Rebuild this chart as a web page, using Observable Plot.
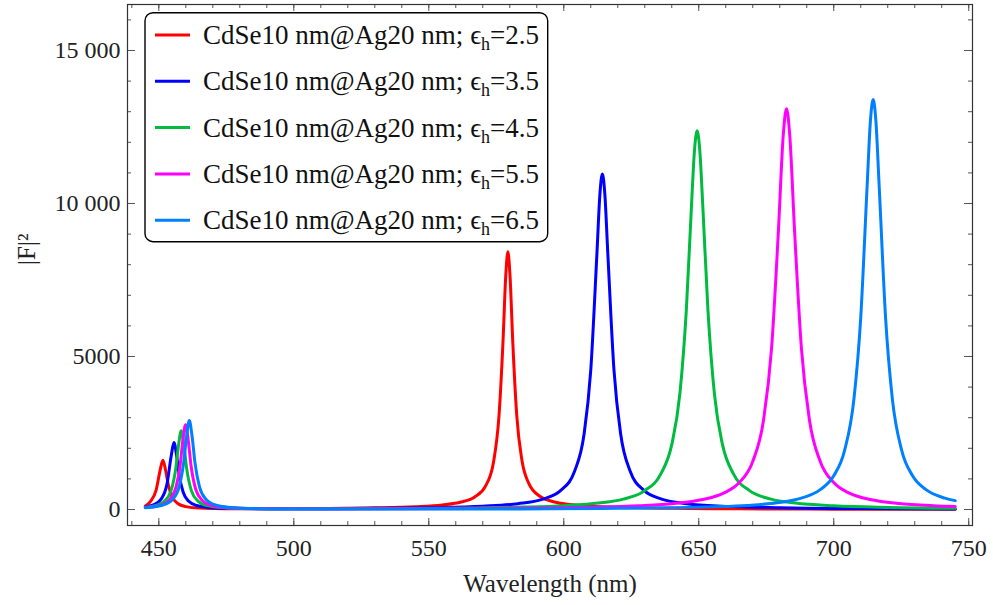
<!DOCTYPE html>
<html><head><meta charset="utf-8">
<script src="https://cdn.jsdelivr.net/npm/d3@7"></script>
<script src="https://cdn.jsdelivr.net/npm/@observablehq/plot@0.6"></script>
<style>body{margin:0;background:#fff}</style>
</head><body><div id="chart"></div>
<script>
// Host permittivities (legend) and colours
const epsH = ["2.5", "3.5", "4.5", "5.5", "6.5"];
const colors = ["#ff0000", "#0000ff", "#00bb40", "#ff00ff", "#0080ff"];

// Series: wavelength (nm) and |F|^2 values
const wlRed = [445,447,449,450.5,451.5,452.5,453.5,455,457,460,465,475,490,510,530,545,555,562,567,571,574,576,577.5,578.5,579.3,580.1,581.1,582.6,584.5,587,591,597,605,620,640,665,700,745];
const valRed = [115,273,633,1289,1610,1289,809,404,197,94,46,27,24,33,54,93,151,244,407,762,1563,3055,5503,7619,8420,7619,5503,3055,1611,860,440,236,140,73,39,21,11,6];

const wlBlue = [445,448,451,453,454.6,455.6,456.6,457.6,459,461,464,468,475,490,510,530,550,570,583,592,599,604,607.5,610,612.3,613.4,614.3,615.2,616.3,618.6,621.1,624.6,629.6,636.6,645.6,660,680,710,745];
const valBlue = [85,151,357,821,1755,2191,1755,1101,572,275,130,68,38,25,28,39,60,108,189,331,631,1249,2450,4555,8395,10324,10965,10324,8395,4555,2450,1249,631,331,189,102,56,29,17];

const wlGreen = [445,449,452,454.5,456.3,457.3,458.3,459.3,460.3,462.1,464.6,467.6,472,480,495,515,540,565,585,600,613,622,630,636,640,643,645.4,647.3,648.4,649.4,650.4,651.5,653.4,655.8,658.8,662.8,668.8,676.8,685.8,700,720,745];
const valGreen = [71,134,266,609,1352,2097,2570,2097,1352,609,266,135,71,37,24,25,33,50,80,126,211,340,616,1170,2119,3777,6525,9915,11715,12375,11715,9915,6525,3777,2119,1170,616,340,211,121,68,40];

const wlMagenta = [445,449,452,454.5,456.5,457.9,458.9,459.9,460.9,461.9,463.7,466.2,469.2,473.6,482,497,517,540,565,590,610,628,641,651,659,665,670,674,677,679.5,681.3,682.5,683.7,685.5,688,691,695,700,706,714,724,737,745];
const valMagenta = [62,107,190,372,771,1456,2259,2769,2259,1456,655,285,143,74,36,22,20,24,31,49,76,125,199,318,526,879,1569,2927,5299,9094,12235,13100,12235,9094,5299,2927,1569,879,526,318,199,125,98];

const wlAzure = [445,449,452,455,457.5,459.2,460.3,461.3,462.3,463.4,465.1,467.6,470.6,473.6,479,487,500,520,545,570,595,620,640,656,668,679,688,695,700,704,707.5,710,712.4,713.6,714.6,715.6,716.8,719.2,721.7,725.2,729.2,734.2,741.2,745];
const valAzure = [57,95,159,320,733,1522,2408,2905,2408,1522,733,320,159,96,50,28,17,13,14,16,23,37,57,89,134,219,371,648,1102,1926,3625,6271,10628,12715,13400,12715,10628,6271,3625,1926,1102,648,371,290];

// Ticks
const xMajor = [450, 500, 550, 600, 650, 700, 750];
const xMinor = d3.range(440, 751, 10);
const yMajor = [0, 5000, 10000, 15000];
const yMinor = d3.range(0, 16001, 1000);

const seriesW = [wlRed, wlBlue, wlGreen, wlMagenta, wlAzure];
const seriesV = [valRed, valBlue, valGreen, valMagenta, valAzure];
const rows = seriesW.map((ws, i) => ws.map((w, j) => ({w, v: seriesV[i][j], s: i})));

const W = 993, H = 605, mL = 127, mR = 21, mT = 4, mB = 80;
const iW = W - mL - mR, iH = H - mT - mB;
const tickColor = "#555";
const serif = "Liberation Serif, Times New Roman, serif";

const fmtY = d => d >= 10000 ? d3.format(",")(d).replace(",", " ") : String(d);

const plot = Plot.plot({
  width: W, height: H,
  marginLeft: mL, marginRight: mR, marginTop: mT, marginBottom: mB,
  style: {fontFamily: serif, fontSize: "24px", color: "#222"},
  x: {domain: [438.4, 751.4]},
  y: {domain: [-523, 16503]},
  marks: [
    Plot.ruleX(xMinor, {x: d => d, insetTop: iH - 4, stroke: tickColor}),
    Plot.ruleX(xMinor, {x: d => d, insetBottom: iH - 4, stroke: tickColor}),
    Plot.ruleX(xMajor, {x: d => d, insetTop: iH - 7, stroke: tickColor}),
    Plot.ruleX(xMajor, {x: d => d, insetBottom: iH - 7, stroke: tickColor}),
    Plot.ruleY(yMinor, {y: d => d, insetRight: iW - 4, stroke: tickColor}),
    Plot.ruleY(yMinor, {y: d => d, insetLeft: iW - 4, stroke: tickColor}),
    Plot.ruleY(yMajor, {y: d => d, insetRight: iW - 8, stroke: tickColor}),
    Plot.ruleY(yMajor, {y: d => d, insetLeft: iW - 8, stroke: tickColor}),
    ...rows.map((r, i) => Plot.line(r, {x: "w", y: "v", stroke: colors[i], strokeWidth: 3, curve: "monotone-x"})),
    Plot.frame({stroke: "#333", strokeWidth: 1.2}),
    Plot.axisX(xMajor, {tickSize: 0, tickPadding: 13, label: null, fontSize: 24, fill: "#222"}),
    Plot.axisY(yMajor, {tickSize: 0, tickPadding: 7, label: null, tickFormat: fmtY, fontSize: 24, fill: "#222"}),
    Plot.text(["Wavelength (nm)"], {frameAnchor: "bottom", dy: 58, lineAnchor: "middle", fontSize: 25, fontFamily: serif, fill: "#222"}),
    Plot.text(["|F|²"], {frameAnchor: "left", dx: -101, rotate: -90, lineAnchor: "middle", fontSize: 25, fontFamily: serif, fill: "#222"})
  ]
});

document.getElementById("chart").appendChild(plot);

// Legend inside the frame
const svg = d3.select(plot);
const lg = svg.append("g");
lg.append("rect").attr("x", 145).attr("y", 12.7).attr("width", 402.7).attr("height", 229)
  .attr("rx", 8).attr("fill", "white").attr("stroke", "black").attr("stroke-width", 1.4);
epsH.forEach((e, i) => {
  const y = 35 + i * 46.3;
  lg.append("line").attr("x1", 155).attr("x2", 190).attr("y1", y).attr("y2", y)
    .attr("stroke", colors[i]).attr("stroke-width", 3);
  const t = lg.append("text").attr("x", 203).attr("y", y + 9).attr("text-anchor", "start")
    .attr("font-family", serif).attr("font-size", 27).attr("fill", "#111");
  t.append("tspan").text("CdSe10 nm@Ag20 nm; \u03F5");
  t.append("tspan").attr("font-size", 18).attr("dy", 6).text("h");
  t.append("tspan").attr("dy", -6).text("=" + e);
});
</script></body></html>
